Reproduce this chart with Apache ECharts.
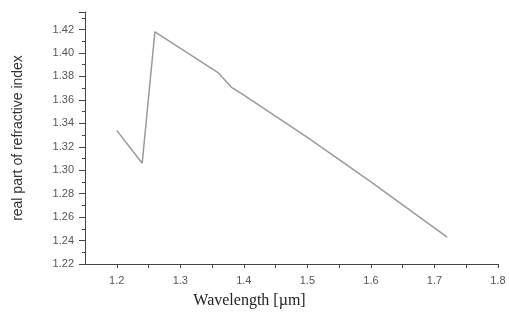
<!DOCTYPE html>
<html>
<head>
<meta charset="utf-8">
<script src="https://cdn.jsdelivr.net/npm/echarts@6/dist/echarts.min.js"></script>
<style>
  html, body { margin: 0; padding: 0; background: #fff; }
  #chart { width: 509px; height: 336px; }
</style>
</head>
<body>
<div id="chart"></div>
<script>
// wavelength (µm) and real part of refractive index
const wavelength = [1.20, 1.24, 1.26, 1.36, 1.38, 1.40, 1.50, 1.60, 1.72];
const realIndex = [1.334, 1.306, 1.418, 1.383, 1.371, 1.364, 1.328, 1.290, 1.243];

const chart = echarts.init(document.getElementById('chart'));

const axisColor = '#444';
const labelColor = '#555';

chart.setOption({
  animation: false,
  grid: { left: 85, right: 11, top: 12, bottom: 72 },
  xAxis: {
    type: 'value',
    min: 1.15,
    max: 1.8,
    interval: 0.05,
    name: 'Wavelength [µm]',
    nameLocation: 'middle',
    nameGap: 29,
    nameTextStyle: {
      fontFamily: 'Liberation Serif',
      fontSize: 16,
      color: '#222',
      padding: [0, 84, 0, 0]
    },
    axisLine: { lineStyle: { color: axisColor, width: 1 } },
    axisTick: { length: 4, lineStyle: { color: axisColor } },
    splitLine: { show: false },
    axisLabel: {
      margin: 11,
      fontFamily: 'Liberation Sans',
      fontSize: 11,
      color: labelColor,
      showMinLabel: false,
      formatter: v => {
        const k = Math.round(v * 100);
        return k % 10 === 0 ? (k / 100).toFixed(1) : '';
      }
    }
  },
  yAxis: {
    type: 'value',
    min: 1.22,
    max: 1.435,
    interval: 0.02,
    name: 'real part of refractive index',
    nameLocation: 'middle',
    nameGap: 60,
    nameTextStyle: {
      fontFamily: 'Liberation Sans',
      fontSize: 14,
      color: '#333'
    },
    axisLine: { show: true, lineStyle: { color: axisColor, width: 1 } },
    axisTick: { show: true, length: 6, lineStyle: { color: axisColor } },
    minorTick: { show: true, splitNumber: 2, length: 3, lineStyle: { color: axisColor } },
    splitLine: { show: false },
    axisLabel: {
      margin: 11,
      fontFamily: 'Liberation Sans',
      fontSize: 11,
      color: labelColor,
      showMaxLabel: false,
      formatter: v => v.toFixed(2)
    }
  },
  series: [{
    type: 'line',
    data: wavelength.map((w, i) => [w, realIndex[i]]),
    symbol: 'none',
    lineStyle: { color: '#9a9a9a', width: 1.5 }
  }]
});
</script>
</body>
</html>
